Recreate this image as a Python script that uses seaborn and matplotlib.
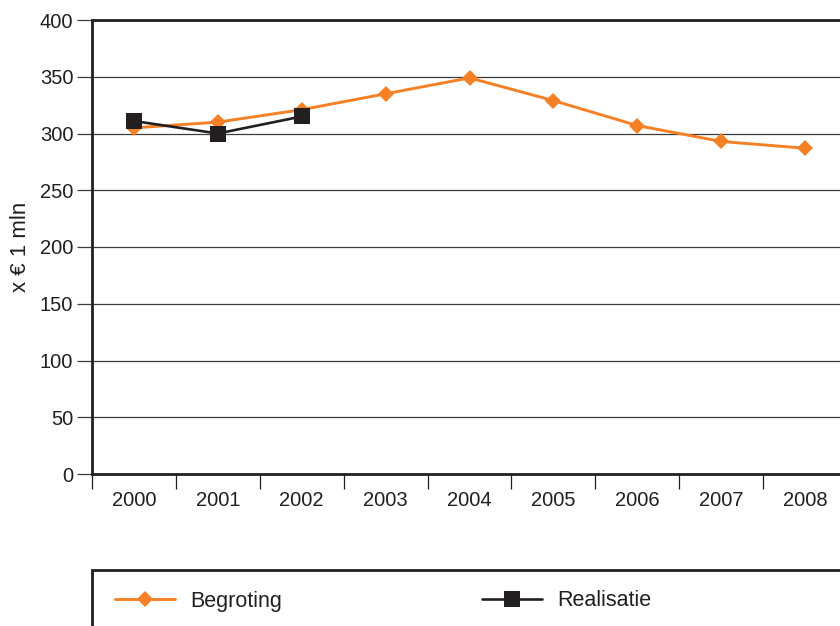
import matplotlib
matplotlib.use("Agg")
import matplotlib.pyplot as plt
from matplotlib.patches import Rectangle
import numpy as np
import pandas as pd
import seaborn as sns

# Budget vs. realised spending, x EUR 1 mln
jaren = [2000, 2001, 2002, 2003, 2004, 2005, 2006, 2007, 2008]
begroting = [305, 310, 321, 335, 349, 329, 307, 293, 287]
realisatie_jaren = [2000, 2001, 2002]
realisatie = [311, 300, 315]
y_ticks = [0, 50, 100, 150, 200, 250, 300, 350, 400]

ORANJE = "#f58025"
ZWART = "#231f20"
GRID = "#3c3c3c"

sns.set_theme(style="white")
plt.rcParams["font.family"] = ["Liberation Sans", "DejaVu Sans"]
plt.rcParams["text.color"] = ZWART
plt.rcParams["xtick.color"] = ZWART
plt.rcParams["ytick.color"] = ZWART

df_b = pd.DataFrame({"jaar": jaren, "waarde": begroting})
df_r = pd.DataFrame({"jaar": realisatie_jaren, "waarde": realisatie})

fig = plt.figure(figsize=(8.4, 6.26), dpi=100)
ax = fig.add_axes([92 / 840, 152 / 626, 755 / 840, 454 / 626])

sns.lineplot(data=df_b, x="jaar", y="waarde", ax=ax, color=ORANJE,
             lw=2.1, marker="D", markersize=8.5, markeredgewidth=0,
             label="Begroting", legend=False, zorder=3)
sns.lineplot(data=df_r, x="jaar", y="waarde", ax=ax, color=ZWART,
             lw=1.9, marker="s", markersize=11.5, markeredgewidth=0,
             label="Realisatie", legend=False, zorder=4)

ax.set_xlim(jaren[0] - 0.5, jaren[-1] + 0.5)
ax.set_ylim(y_ticks[0], y_ticks[-1])

# y axis
ax.set_yticks(y_ticks)
ax.set_yticklabels([str(v) for v in y_ticks], fontsize=14.5)
ax.tick_params(axis="y", which="major", direction="out", length=10.5,
               width=0.9, color=GRID, pad=3, left=True)
ax.yaxis.grid(True, color=GRID, lw=0.9)
ax.xaxis.grid(False)
ax.set_axisbelow(True)

# x axis: tick marks at category boundaries, labels centered
grenzen = [j - 0.5 for j in jaren] + [jaren[-1] + 0.5]
ax.set_xticks(grenzen)
ax.set_xticklabels([])
ax.set_xticks(jaren, minor=True)
ax.set_xticklabels([str(j) for j in jaren], minor=True, fontsize=14.5)
ax.tick_params(axis="x", which="major", direction="out", length=10.5,
               width=0.9, color=ZWART, bottom=True)
ax.tick_params(axis="x", which="minor", length=0, pad=12, bottom=True)

ax.set_xlabel("")
ax.set_ylabel("")

for side in ["left", "bottom", "top"]:
    ax.spines[side].set_visible(True)
    ax.spines[side].set_color(ZWART)
    ax.spines[side].set_linewidth(2.0)
ax.spines["right"].set_visible(False)

fig.text(21 / 840, 1 - 247 / 626, "x € 1 mln", rotation=90,
         ha="center", va="center", fontsize=16)

# legend panel
fig.add_artist(Rectangle((92 / 840, -0.2), 1.0, 0.2 + 56 / 626,
                         transform=fig.transFigure, fill=False,
                         edgecolor=ZWART, lw=2.0))

lijnen = ax.get_lines()
for lijn, naam, x0 in [(lijnen[0], "Begroting", 115), (lijnen[1], "Realisatie", 482)]:
    fig.legend(handles=[lijn], labels=[naam], loc="center left",
               bbox_to_anchor=(x0 / 840, 1 - 601 / 626), frameon=False,
               handlelength=2.8, handletextpad=0.7, borderpad=0,
               borderaxespad=0, fontsize=15.5)

fig.savefig("out.png", dpi=100)
